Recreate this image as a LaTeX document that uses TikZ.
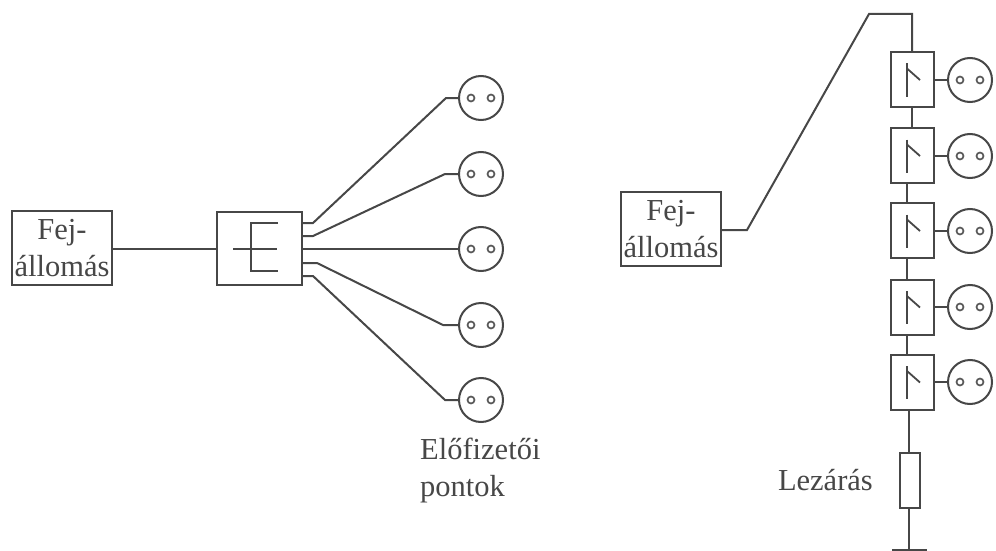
\documentclass[tikz,border=0pt]{standalone}
\usepackage{fontspec}
\setmainfont{Liberation Serif}
\begin{document}
\begin{tikzpicture}[x=1pt,y=-1pt,
  ln/.style={draw=black!72,line width=2pt,line join=miter},
  thinln/.style={draw=black!72,line width=1.8pt},
  labelbox/.style={ln,inner sep=0pt,align=center,font=\fontsize{30.5}{37.5}\selectfont,text=black!72},
  txt/.style={inner sep=0pt,align=left,font=\fontsize{30.5}{37}\selectfont,text=black!72},
  sock/.style={ln,circle,minimum size=44pt,inner sep=0pt},
  tapbox/.style={ln,minimum width=43pt,minimum height=55pt,inner sep=0pt},
  hole/.style={draw=black!65,line width=1.7pt,circle,minimum size=7pt,inner sep=0pt}]
\useasboundingbox (0,0) rectangle (996,551);
\newcommand{\socketholes}[1]{%
  \node[hole] (#1l) at ([xshift=-10pt]#1.center) {};
  \node[hole] (#1r) at ([xshift=10pt]#1.center) {};}
% left network
\node[labelbox,minimum width=100pt,minimum height=74pt] (headA) at (62,248) {Fej-\\állomás};
\node[ln,minimum width=85pt,minimum height=73pt,inner sep=0pt] (split) at (259.5,248.5) {};
\coordinate (hl) at (200,249);
\draw[ln] (headA.east |- hl) -- (split.west |- hl);
\foreach \n/\y in {a/98,b/174,c/249,d/325,e/400}{
  \node[sock] (s\n) at (481,\y) {};
  \socketholes{s\n}
}
\coordinate (ka) at (446,98); \coordinate (kb) at (445,174);
\coordinate (kd) at (443,325); \coordinate (ke) at (445,400);
\coordinate (ta) at (313,223); \coordinate (tb) at (313,236);
\coordinate (td) at (317,263); \coordinate (te) at (313,276);
\coordinate (pa) at (split.east |- ta); \coordinate (pb) at (split.east |- tb);
\coordinate (pd) at (split.east |- td); \coordinate (pe) at (split.east |- te);
\draw[ln] (pa) -- (ta) -- (ka) -- (sa.west);
\draw[ln] (pb) -- (tb) -- (kb) -- (sb.west);
\draw[ln] (split.east |- sc.west) -- (sc.west);
\draw[ln] (pd) -- (td) -- (kd) -- (sd.west);
\draw[ln] (pe) -- (te) -- (ke) -- (se.west);
% splitter symbol
\coordinate (e1) at (278,223); \coordinate (e2) at (251,223);
\coordinate (e3) at (251,271); \coordinate (e4) at (278,271);
\coordinate (m1) at (233,249); \coordinate (m2) at (277,249);
\draw[thinln] (e1) -- (e2) -- (e3) -- (e4);
\draw[thinln] (m1) -- (m2);
\node[txt,anchor=base west] (subs) at (420,496) {Előfizetői\\pontok};
% right network
\node[labelbox,minimum width=100pt,minimum height=74pt] (headB) at (671,229) {Fej-\\állomás};
\foreach \n/\y/\sy in {1/79.5/80,2/155.5/156,3/230.5/231,4/307/307,5/382/382}{
  \node[tapbox] (t\n) at (912.5,\y) {};
  \node[sock] (u\n) at (970,\sy) {};
  \socketholes{u\n}
  \draw[ln] (t\n.east |- u\n.west) -- (u\n.west);
  \coordinate (v\n a) at (907,\y-16);
  \coordinate (v\n b) at (907,\y+17);
  \coordinate (v\n c) at (907,\y-11);
  \coordinate (v\n d) at (920,\y+0.5);
  \draw[thinln] (v\n a) -- (v\n b);
  \draw[thinln] (v\n c) -- (v\n d);
}
\coordinate (k1) at (747,230); \coordinate (k2) at (869,14); \coordinate (k3) at (912,14);
\coordinate (c2) at (907,0);
\draw[ln] (headB.east |- k1) -- (k1) -- (k2) -- (k3) -- (k3 |- t1.north);
\draw[ln] (k3 |- t1.south) -- (k3 |- t2.north);
\draw[ln] (c2 |- t2.south) -- (c2 |- t3.north);
\draw[ln] (c2 |- t3.south) -- (c2 |- t4.north);
\draw[ln] (c2 |- t4.south) -- (c2 |- t5.north);
\node[ln,minimum width=20pt,minimum height=55pt,inner sep=0pt] (res) at (910,480.5) {};
\coordinate (g0) at (909,550); \coordinate (g1) at (892,550); \coordinate (g2) at (927,550);
\draw[ln] (g0 |- t5.south) -- (g0 |- res.north);
\draw[ln] (g0 |- res.south) -- (g0);
\draw[ln] (g1) -- (g2);
\node[txt,anchor=base east] (term) at (873,490) {Lezárás};
\end{tikzpicture}
\end{document}
